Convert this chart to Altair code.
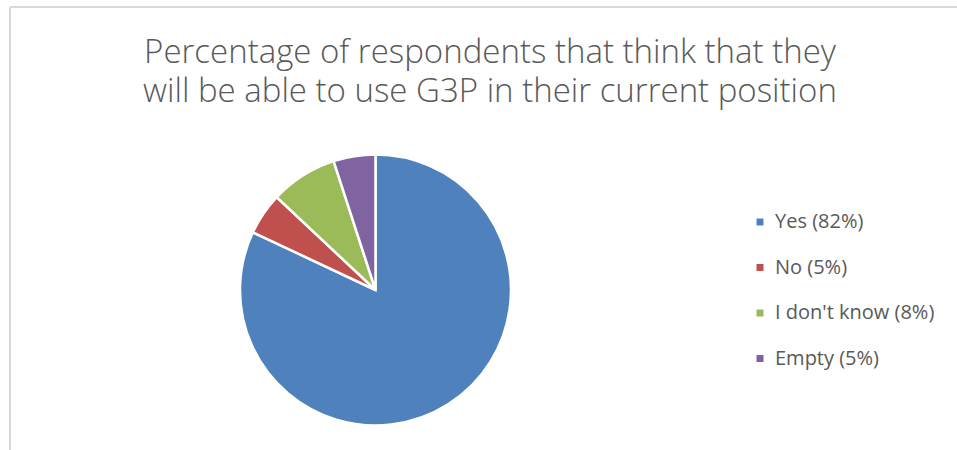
import altair as alt
import pandas as pd

CATEGORIES = ["Yes", "No", "I don't know", "Empty"]
VALUES = [82, 5, 8, 5]
COLORS = ["#4F81BD", "#C0504D", "#9BBB59", "#8064A2"]
TITLE_LINES = ["Percentage of respondents that think that they",
               "will be able to use G3P in their current position"]

labels = [f"{c} ({v}%)" for c, v in zip(CATEGORIES, VALUES)]
df = pd.DataFrame({"label": labels, "value": VALUES, "idx": list(range(len(VALUES)))})

FONT = "Open Sans"
GREY = "#595959"

pie = alt.Chart(df).mark_arc(outerRadius=135.5, stroke="white", strokeWidth=2.5).encode(
    theta=alt.Theta("value:Q", stack=True),
    order=alt.Order("idx:Q", sort="ascending"),
    color=alt.Color(
        "label:N",
        sort=labels,
        scale=alt.Scale(domain=labels, range=COLORS),
        legend=alt.Legend(
            title=None, orient="none", legendX=750, legendY=212,
            symbolType="square", symbolSize=49, symbolStrokeWidth=0,
            labelFont=FONT, labelFontSize=20, labelColor=GREY,
            labelLimit=300, rowPadding=25.5, labelOffset=5,
        ),
    ),
    x=alt.value(375.5),
    y=alt.value(290),
)

one = pd.DataFrame({"k": [0]})


def title_line(text, y):
    return alt.Chart(one).mark_text(
        font=FONT, fontSize=33, fontWeight=300, color=GREY, align="center",
        baseline="alphabetic",
    ).encode(x=alt.value(490), y=alt.value(y), text=alt.value(text))


title1 = title_line(TITLE_LINES[0], 63.3)
title2 = title_line(TITLE_LINES[1], 102)

frame_top = alt.Chart(one).mark_rule(color="#D9D9D9", strokeWidth=2).encode(
    x=alt.value(10), x2=alt.value(957), y=alt.value(7))
frame_left = alt.Chart(one).mark_rule(color="#D9D9D9", strokeWidth=2).encode(
    x=alt.value(10), y=alt.value(7), y2=alt.value(450))

chart = alt.layer(frame_top, frame_left, title1, title2, pie).properties(
    width=957, height=450, padding=0,
    autosize=alt.AutoSizeParams(type="none"),
    background="white",
).configure_view(stroke=None)

chart.save("out.html", embed_options={"renderer": "svg", "actions": False})
